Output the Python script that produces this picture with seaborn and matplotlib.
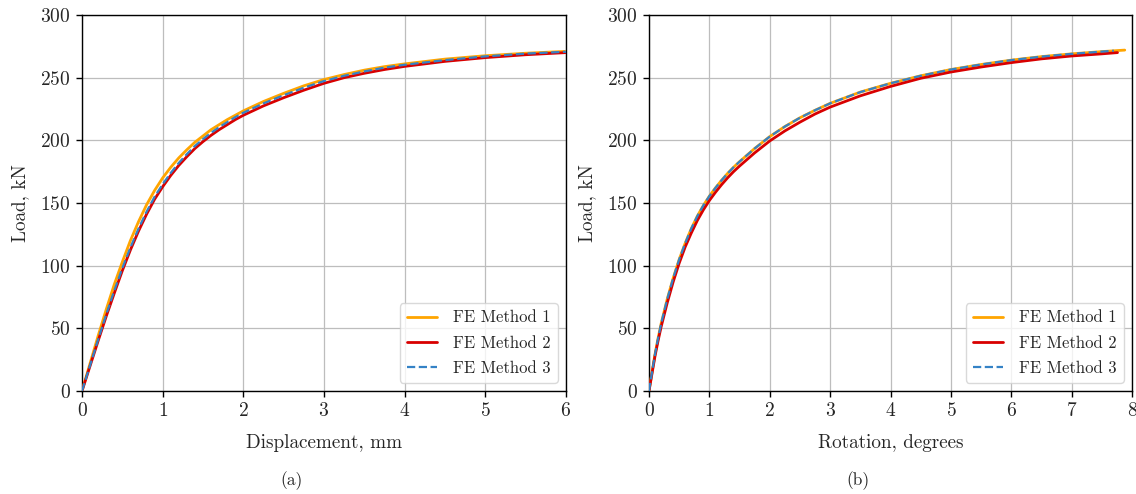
import numpy as np
import pandas as pd
import matplotlib
matplotlib.use("Agg")
import matplotlib.pyplot as plt
import seaborn as sns

# ---- data: panel (a) load-displacement ----
disp_a = [0, 0.1, 0.2, 0.3, 0.4, 0.5, 0.6, 0.7, 0.8, 0.9, 1.0, 1.1, 1.2, 1.3, 1.4, 1.5,
          1.6, 1.7, 1.8, 1.9, 2.0, 2.25, 2.5, 2.75, 3.0, 3.25, 3.5, 3.75, 4.0, 4.5, 5.0, 5.5, 6.0]
load_a_m1 = [0, 22, 44, 65, 85, 103, 120, 135, 148.5, 160, 170, 178.5, 186, 192.5, 198.5, 203.5,
             208.5, 212.5, 216.5, 220, 223.5, 231, 237.5, 243.5, 248.5, 252.5, 256, 258.8, 261, 264.8, 267.5, 269.5, 271]
load_a_m2 = [0, 20, 40, 59.5, 78, 96, 112.5, 127.5, 141, 153, 163, 172, 180, 187, 193.5, 199,
             204, 208.5, 212.5, 216.5, 220, 227.5, 234, 240, 245.5, 250, 253.5, 256.5, 259, 263, 266, 268.3, 270]
load_a_m3 = [0, 20.5, 41, 61, 80, 98, 114.5, 129.5, 143, 155, 165, 174, 182, 189, 195.5, 201,
             206, 210.5, 214.5, 218.5, 222, 229.5, 236, 242, 247.3, 251.5, 255, 258, 260.3, 264, 267, 269.2, 270.7]

# ---- data: panel (b) load-rotation ----
rot_m1 = [0, 0.05, 0.1, 0.15, 0.2, 0.3, 0.4, 0.5, 0.6, 0.7, 0.8, 0.9, 1.0, 1.1, 1.2, 1.3, 1.4, 1.5,
          1.75, 2.0, 2.25, 2.5, 2.75, 3.0, 3.5, 4.0, 4.5, 5.0, 5.5, 6.0, 6.5, 7.0, 7.5, 7.88]
load_b_m1 = [0, 15, 29.5, 42, 53.5, 73, 90, 105, 118, 129.5, 139.5, 148, 155.5, 162, 168, 173.5, 178.5, 183,
             193.5, 203, 211, 218, 224, 229.5, 238.5, 245.5, 251.5, 256.5, 260.5, 264, 266.8, 269, 270.8, 272]
rot_m2 = [0, 0.05, 0.1, 0.15, 0.2, 0.3, 0.4, 0.5, 0.6, 0.7, 0.8, 0.9, 1.0, 1.1, 1.2, 1.3, 1.4, 1.5,
          1.75, 2.0, 2.25, 2.5, 2.75, 3.0, 3.5, 4.0, 4.5, 5.0, 5.5, 6.0, 6.5, 7.0, 7.5, 7.76]
load_b_m2 = [0, 14, 28, 40, 51, 70, 87, 102, 115, 126, 136, 144.5, 152, 158.5, 164.5, 170, 175, 179.5,
             190, 199.5, 207.5, 214.5, 221, 226.5, 235.5, 243, 249.5, 254.5, 258.5, 262, 265, 267.3, 269, 270]
rot_m3 = [0, 0.05, 0.1, 0.15, 0.2, 0.3, 0.4, 0.5, 0.6, 0.7, 0.8, 0.9, 1.0, 1.1, 1.2, 1.3, 1.4, 1.5,
          1.75, 2.0, 2.25, 2.5, 2.75, 3.0, 3.5, 4.0, 4.5, 5.0, 5.5, 6.0, 6.5, 7.0, 7.5, 7.7]
load_b_m3 = [0, 15, 29.5, 42, 53.5, 73, 90, 105, 118, 129.5, 139.5, 148, 155.5, 162, 168, 173.5, 178.5, 183,
             193.5, 203, 211, 218, 224, 229.5, 238.5, 245.5, 251.5, 256.5, 260.5, 264, 266.8, 269, 270.8, 271.5]

labels = ["FE Method 1", "FE Method 2", "FE Method 3"]
colors = ["#ffa500", "#d80000", "#3482c6"]
styles = ["-", "-", "--"]
widths = [2.0, 2.0, 1.6]

sns.set_style("ticks")
plt.rcParams["font.family"] = ["cmr10", "DejaVu Serif"]
plt.rcParams["axes.formatter.use_mathtext"] = True
plt.rcParams["mathtext.fontset"] = "cm"

fig = plt.figure(figsize=(11.36, 4.94), dpi=100)
W, H = 1136, 494
ax_a = fig.add_axes([82 / W, 1 - 391 / H, (566 - 82) / W, (391 - 15) / H])
ax_b = fig.add_axes([649 / W, 1 - 391 / H, (1132 - 649) / W, (391 - 15) / H])

panels = [
    (ax_a, [(disp_a, load_a_m1), (disp_a, load_a_m2), (disp_a, load_a_m3)], "Displacement, mm", 6, "(a)", 292),
    (ax_b, [(rot_m1, load_b_m1), (rot_m2, load_b_m2), (rot_m3, load_b_m3)], "Rotation, degrees", 8, "(b)", 858),
]

for ax, series, xlabel, xmax, cap, capx in panels:
    for (xs, ys), lab, c, ls, lw in zip(series, labels, colors, styles, widths):
        df = pd.DataFrame({"x": xs, "y": ys})
        sns.lineplot(data=df, x="x", y="y", ax=ax, color=c, linestyle=ls,
                     linewidth=lw, label=lab, zorder=3)
    ax.set_xlim(0, xmax)
    ax.set_ylim(0, 300)
    ax.set_xticks(range(0, xmax + 1))
    ax.set_yticks(range(0, 301, 50))
    ax.grid(True, color="#bdbdbd", linewidth=0.9)
    ax.set_axisbelow(True)
    for s in ax.spines.values():
        s.set_color("black")
        s.set_linewidth(1.0)
    ax.tick_params(axis="both", labelsize=14, length=4, width=1, color="black", direction="out", pad=4)
    ax.set_xlabel(xlabel, fontsize=13.8, labelpad=10)
    ax.set_ylabel("Load, kN", fontsize=13.8, labelpad=8)
    leg = ax.legend(loc="lower right", fontsize=12, frameon=True, framealpha=0.8,
                    edgecolor="#d0d0d0", fancybox=True, handlelength=1.8, handletextpad=1.0,
                    labelspacing=0.6)
    fig.text(capx / W, 1 - 481 / H, cap, fontsize=12.5, ha="center", va="center")

fig.savefig("out.png", dpi=100)
